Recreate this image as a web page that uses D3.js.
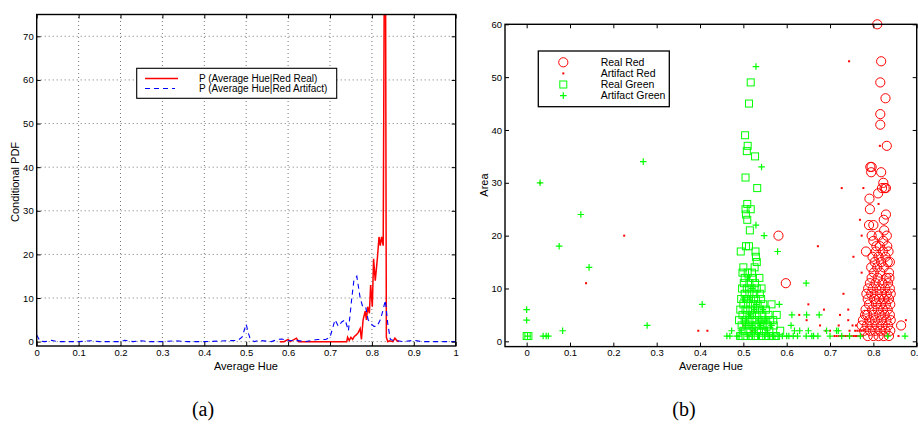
<!DOCTYPE html>
<html>
<head>
<meta charset="utf-8">
<script src="https://cdn.jsdelivr.net/npm/d3@7"></script>
<style>
body { margin: 0; background: #fff; }
text { font-family: "Liberation Sans", Arial, sans-serif; fill: #000; }
.caption { font-family: "Liberation Serif", "Times New Roman", serif; font-size: 20px; }
</style>
</head>
<body>
<svg id="kuva" width="918" height="428"></svg>
<script>
'use strict';
// (a) conditional pdf curves, [hue, pdf]
const redRealPdf = [[0.58,0],[0.59,0],[0.6,0.5],[0.605,0],[0.62,0.8],[0.625,0],[0.74,0],[0.742,1],[0.746,0.3],[0.75,1],
	[0.754,0.5],[0.758,1.2],[0.762,1.5],[0.767,2],[0.772,3],[0.775,0.5],[0.779,5],[0.784,7],[0.787,5],[0.79,8],
	[0.794,6.5],[0.797,13],[0.801,8],[0.804,19],[0.808,14],[0.813,19],[0.817,24],[0.82,22],[0.823,24],[0.827,22],
	[0.8315,130],[0.8345,1],[0.838,0],[0.842,0.2],[0.85,0],[0.855,0.8],[0.86,0.2],[0.865,0]];
const redArtifactPdf = [[0,1.5],[0.008,0.1],[0.02,0],[0.035,0.3],[0.05,0],[0.1,0],[0.13,0.2],[0.15,0],[0.2,0],[0.21,0.3],
	[0.23,0],[0.25,0.2],[0.27,0],[0.3,0],[0.33,0.2],[0.36,0],[0.4,0],[0.48,0.3],[0.49,1],[0.5,4],[0.505,2],[0.51,0.5],
	[0.52,0],[0.53,0.3],[0.56,0],[0.575,0.5],[0.585,0.6],[0.6,0.2],[0.62,0.3],[0.64,0],[0.67,0.5],[0.69,0.5],[0.7,1],
	[0.712,5],[0.72,3.5],[0.728,4.5],[0.736,5],[0.744,2.5],[0.752,10],[0.757,14],[0.764,15],[0.772,10],[0.778,8],
	[0.785,8],[0.791,5],[0.799,4],[0.805,3.5],[0.812,3.5],[0.82,5],[0.826,7],[0.832,9.5],[0.838,4],[0.844,0.5],
	[0.85,0.3],[0.86,0.2],[0.875,0],[0.9,0.3],[0.92,0],[1,0]];
const pdfLegend = ['P (Average Hue|Red Real)', 'P (Average Hue|Red Artifact)'];
const pdfXTicks = [0,0.1,0.2,0.3,0.4,0.5,0.6,0.7,0.8,0.9,1];
const pdfYTicks = [0,10,20,30,40,50,60,70];

// (b) scatter, [hue, area]
const realRed = [[0.809,60],[0.818,53],[0.816,49],[0.828,46],[0.816,43],[0.816,41],[0.831,37],[0.793,33],[0.796,33],
	[0.795,32],[0.818,32],[0.823,30],[0.82,29],[0.826,29],[0.829,29],[0.811,28],[0.791,27],[0.792,25],[0.829,24],
	[0.824,23],[0.79,22],[0.8,22],[0.581,20],[0.598,11],[0.864,3],[0.783,17],[0.796,20],[0.812,20],[0.825,21],[0.831,20],
	[0.8,19],[0.815,18],[0.832,18],[0.806,17],[0.822,17],[0.835,17],[0.798,16],[0.812,16],[0.828,16],[0.803,15],
	[0.818,15],[0.833,15],[0.838,15],[0.795,14],[0.809,14],[0.824,14],[0.836,13],[0.801,13],[0.816,13],[0.83,12],
	[0.81,12],[0.837,12],[0.792,11],[0.805,11],[0.821,11],[0.834,11],[0.788,10],[0.799,10],[0.814,10],[0.827,10],
	[0.838,10],[0.784,9],[0.795,9],[0.808,9],[0.819,9],[0.831,9],[0.787,8],[0.802,8],[0.813,8],[0.825,8],[0.836,8],
	[0.79,7],[0.806,7],[0.817,7],[0.829,7],[0.839,7],[0.782,6],[0.797,6],[0.81,6],[0.822,6],[0.833,6],[0.786,5],
	[0.8,5],[0.814,5],[0.826,5],[0.838,5],[0.776,4],[0.791,4],[0.804,4],[0.818,4],[0.83,4],[0.84,4],[0.773,3],
	[0.785,3],[0.797,3],[0.809,3],[0.821,3],[0.834,3],[0.779,2],[0.792,2],[0.804,2],[0.816,2],[0.828,2],[0.839,2],
	[0.787,1],[0.8,1],[0.812,1],[0.824,1],[0.836,1],[0.781,5],[0.796,12],[0.807,18],[0.823,19],[0.84,9]];
const artifactRed = [[0.744,53],[0.727,29],[0.777,29],[0.812,26],[0.815,37],[0.672,18],[0.754,16],[0.769,23],[0.773,20],
	[0.225,20],[0.137,11],[0.731,9],[0.686,6],[0.65,7],[0.629,5],[0.646,4],[0.677,3],[0.723,5],[0.742,6],[0.742,4],
	[0.773,13],[0.396,2],[0.417,2],[0.031,30],[0.875,4],[0.858,1],[0.71,1],[0.715,1],[0.72,1],[0.725,1],[0.73,1],
	[0.735,1],[0.74,1],[0.745,1],[0.75,1],[0.755,1],[0.76,1],[0.765,1],[0.77,1],[0.775,1],[0.758,2],[0.763,2],
	[0.768,2],[0.773,2],[0.778,2],[0.752,3],[0.76,3],[0.69,2],[0.7,2],[0.72,3],[0.745,2],[0.51,1],[0.5,3],[0.52,2]];
const realGreen = [[0,1],[0.004,1],[0.517,49],[0.513,45],[0.504,39],[0.51,37],[0.508,36],[0.527,35],[0.505,31],[0.532,29],
	[0.509,26],[0.505,25],[0.517,25],[0.506,24],[0.509,23],[0.515,21],[0.494,17],[0.506,18],[0.513,18],[0.528,17],
	[0.529,16],[0.526,14],[0.5,14],[0.537,12],[0.542,10],[0.565,7],[0.577,5],[0.569,4],[0.546,3],[0.531,15],[0.52,13],
	[0.503,12],[0.498,13],[0.51,13],[0.522,12],[0.501,11],[0.514,11],[0.527,11],[0.497,10],[0.508,10],[0.519,10],
	[0.531,10],[0.503,9],[0.514,9],[0.525,9],[0.538,9],[0.495,8],[0.507,8],[0.518,8],[0.529,8],[0.541,8],[0.5,7],
	[0.511,7],[0.522,7],[0.533,7],[0.546,7],[0.493,6],[0.505,6],[0.516,6],[0.527,6],[0.539,6],[0.552,6],[0.498,5],
	[0.509,5],[0.52,5],[0.532,5],[0.544,5],[0.558,5],[0.49,4],[0.503,4],[0.514,4],[0.526,4],[0.537,4],[0.549,4],
	[0.562,4],[0.496,3],[0.507,3],[0.519,3],[0.53,3],[0.542,3],[0.555,3],[0.5,2],[0.512,2],[0.524,2],[0.536,2],
	[0.548,2],[0.56,2],[0.493,1],[0.505,1],[0.517,1],[0.529,1],[0.541,1],[0.553,1],[0.565,1],[0.575,1],[0.585,2],[0.57,3]];
const artifactGreen = [[0.529,52],[0.542,33],[0.529,22],[0.548,20],[0.579,17],[0.031,30],[0.269,34],[0.125,24],[0.075,18],
	[0.144,14],[0,6],[0,4],[0.083,2],[0.038,1],[0.045,1],[0.05,1],[0.278,3],[0.405,7],[0.645,11],[0.583,7],[0.612,5],
	[0.646,5],[0.675,5],[0.61,3],[0.002,1],[0.462,1],[0.469,1],[0.473,2],[0.485,1],[0.49,1],[0.51,1],[0.52,1],[0.535,1],
	[0.55,1],[0.56,1],[0.57,1],[0.58,1],[0.59,1],[0.6,1],[0.605,1],[0.615,1],[0.625,1],[0.618,2],[0.63,2],[0.645,1],
	[0.65,2],[0.658,1],[0.662,1],[0.672,1],[0.692,2],[0.7,1],[0.715,2],[0.719,2],[0.727,1],[0.745,1],[0.77,1],
	[0.833,1],[0.873,1],[0.505,3],[0.515,5],[0.525,2],[0.535,4],[0.545,6],[0.5,8],[0.52,10],[0.51,12],[0.53,7],
	[0.555,2],[0.565,3],[0.515,8],[0.54,3],[0.525,6],[0.507,4],[0.495,2],[0.55,4],[0.52,3]];
const scatterLegend = ['Real Red', 'Artifact Red', 'Real Green', 'Artifact Green'];
const scatterXTicks = [0,0.1,0.2,0.3,0.4,0.5,0.6,0.7,0.8,0.9];
const scatterYTicks = [0,10,20,30,40,50,60];

const punainen = '#ff0000', sininen = '#0000ff', vihrea = '#00ff00';
const svg = d3.select('#kuva');

// kehys + sisäänpäin osoittavat tikit kaikille sivuille
function piirraAkselit(g, x, y, xt, yt) {
	const [x0, x1] = x.range(), [y0, y1] = y.range();
	const fmt = d3.format('');
	g.append('g').attr('transform', `translate(0,${y0})`)
		.call(d3.axisBottom(x).tickValues(xt).tickFormat(fmt).tickSizeInner(-4).tickSizeOuter(0).tickPadding(3));
	g.append('g').attr('transform', `translate(0,${y1})`)
		.call(d3.axisTop(x).tickValues(xt).tickFormat('').tickSizeInner(-4).tickSizeOuter(0));
	g.append('g').attr('transform', `translate(${x0},0)`)
		.call(d3.axisLeft(y).tickValues(yt).tickFormat(fmt).tickSizeInner(-4).tickSizeOuter(0).tickPadding(3));
	g.append('g').attr('transform', `translate(${x1},0)`)
		.call(d3.axisRight(y).tickValues(yt).tickFormat('').tickSizeInner(-4).tickSizeOuter(0));
	g.selectAll('.domain').remove();
	g.selectAll('.tick line').attr('stroke', '#000');
	g.selectAll('.tick text').attr('font-size', 9.5).attr('font-family', '"Liberation Sans", Arial, sans-serif').attr('fill', '#111');
	g.append('rect').attr('x', x0).attr('y', y1).attr('width', x1 - x0).attr('height', y0 - y1)
		.attr('fill', 'none').attr('stroke', '#000').attr('stroke-width', 1.4);
}

// ---- (a) ----
const xa = d3.scaleLinear().domain([0, 1]).range([36.7, 455.7]);
const ya = d3.scaleLinear().domain([-1, 75]).range([346, 14.5]);
const ga = svg.append('g');

ga.append('clipPath').attr('id', 'leikkausA').append('rect')
	.attr('x', 36.7).attr('y', 14.5).attr('width', 419).attr('height', 331.5);

const ruudukko = ga.append('g').attr('stroke', '#777').attr('stroke-dasharray', '1,3').attr('stroke-width', 1);
pdfXTicks.slice(1, -1).forEach(function(t) {
	ruudukko.append('line').attr('x1', xa(t)).attr('x2', xa(t)).attr('y1', ya(-1)).attr('y2', ya(75));
});
pdfYTicks.forEach(function(t) {
	ruudukko.append('line').attr('x1', xa(0)).attr('x2', xa(1)).attr('y1', ya(t)).attr('y2', ya(t));
});

const viiva = d3.line().x(d => xa(d[0])).y(d => ya(d[1]));
ga.append('path').datum(redRealPdf).attr('d', viiva).attr('clip-path', 'url(#leikkausA)')
	.attr('fill', 'none').attr('stroke', punainen).attr('stroke-width', 1.5);
ga.append('path').datum(redArtifactPdf).attr('d', viiva).attr('clip-path', 'url(#leikkausA)')
	.attr('fill', 'none').attr('stroke', sininen).attr('stroke-width', 1.1).attr('stroke-dasharray', '5,4');

piirraAkselit(ga, xa, ya, pdfXTicks, pdfYTicks);

ga.append('text').attr('x', 246).attr('y', 370).attr('text-anchor', 'middle').attr('font-size', 11).text('Average Hue');
ga.append('text').attr('transform', 'translate(19,182) rotate(-90)').attr('text-anchor', 'middle')
	.attr('font-size', 11).text('Conditional PDF');

// selite (a)
const la = ga.append('g');
la.append('rect').attr('x', 136.7).attr('y', 68.3).attr('width', 200).attr('height', 30)
	.attr('fill', '#fff').attr('stroke', '#000').attr('stroke-width', 1.1);
la.append('line').attr('x1', 145).attr('x2', 178).attr('y1', 78.5).attr('y2', 78.5)
	.attr('stroke', punainen).attr('stroke-width', 1.3);
la.append('line').attr('x1', 145).attr('x2', 175).attr('y1', 88.5).attr('y2', 88.5)
	.attr('stroke', sininen).attr('stroke-width', 1.1).attr('stroke-dasharray', '5,4');
pdfLegend.forEach(function(s, i) {
	la.append('text').attr('x', 199).attr('y', 82 + i * 10).attr('font-size', 10).text(s);
});

// ---- (b) ----
const xb = d3.scaleLinear().domain([-0.05, 0.9]).range([505, 916.7]);
const yb = d3.scaleLinear().domain([-1, 60]).range([346.6, 24.3]);
const gb = svg.append('g');

// merkit
function ympyra(g, cx, cy) {
	g.append('circle').attr('cx', cx).attr('cy', cy).attr('r', 4.6)
		.attr('fill', 'none').attr('stroke', punainen).attr('stroke-width', 1);
}
function piste(g, cx, cy) {
	g.append('rect').attr('x', cx - 1).attr('y', cy - 1).attr('width', 2).attr('height', 2).attr('fill', punainen);
}
function nelio(g, cx, cy) {
	g.append('rect').attr('x', cx - 3.5).attr('y', cy - 3.5).attr('width', 7).attr('height', 7)
		.attr('fill', 'none').attr('stroke', vihrea).attr('stroke-width', 1);
}
function risti(g, cx, cy) {
	g.append('path').attr('d', `M${cx - 3.3},${cy}H${cx + 3.3}M${cx},${cy - 3.3}V${cy + 3.3}`)
		.attr('stroke', vihrea).attr('stroke-width', 1.2).attr('fill', 'none');
}

const merkit = gb.append('g');
realRed.forEach(d => ympyra(merkit, xb(d[0]), yb(d[1])));
artifactRed.forEach(d => piste(merkit, xb(d[0]), yb(d[1])));
realGreen.forEach(d => nelio(merkit, xb(d[0]), yb(d[1])));
artifactGreen.forEach(d => risti(merkit, xb(d[0]), yb(d[1])));

piirraAkselit(gb, xb, yb, scatterXTicks, scatterYTicks);

gb.append('text').attr('x', 711).attr('y', 370).attr('text-anchor', 'middle').attr('font-size', 11).text('Average Hue');
gb.append('text').attr('transform', 'translate(488,185) rotate(-90)').attr('text-anchor', 'middle')
	.attr('font-size', 11).text('Area');

// selite (b)
const lb = gb.append('g');
lb.append('rect').attr('x', 538.3).attr('y', 51).attr('width', 131).attr('height', 55.7)
	.attr('fill', '#fff').attr('stroke', '#000').attr('stroke-width', 1.3);
const merkkiFn = [ympyra, piste, nelio, risti];
scatterLegend.forEach(function(s, i) {
	const yy = 62.3 + i * 11.1;
	merkkiFn[i](lb, 563.3, yy);
	lb.append('text').attr('x', 600.7).attr('y', yy + 3.6).attr('font-size', 10.5).text(s);
});

// kuvatekstit
svg.append('text').attr('class', 'caption').attr('x', 203).attr('y', 416).attr('text-anchor', 'middle').text('(a)');
svg.append('text').attr('class', 'caption').attr('x', 684).attr('y', 416).attr('text-anchor', 'middle').text('(b)');
</script>
</body>
</html>
